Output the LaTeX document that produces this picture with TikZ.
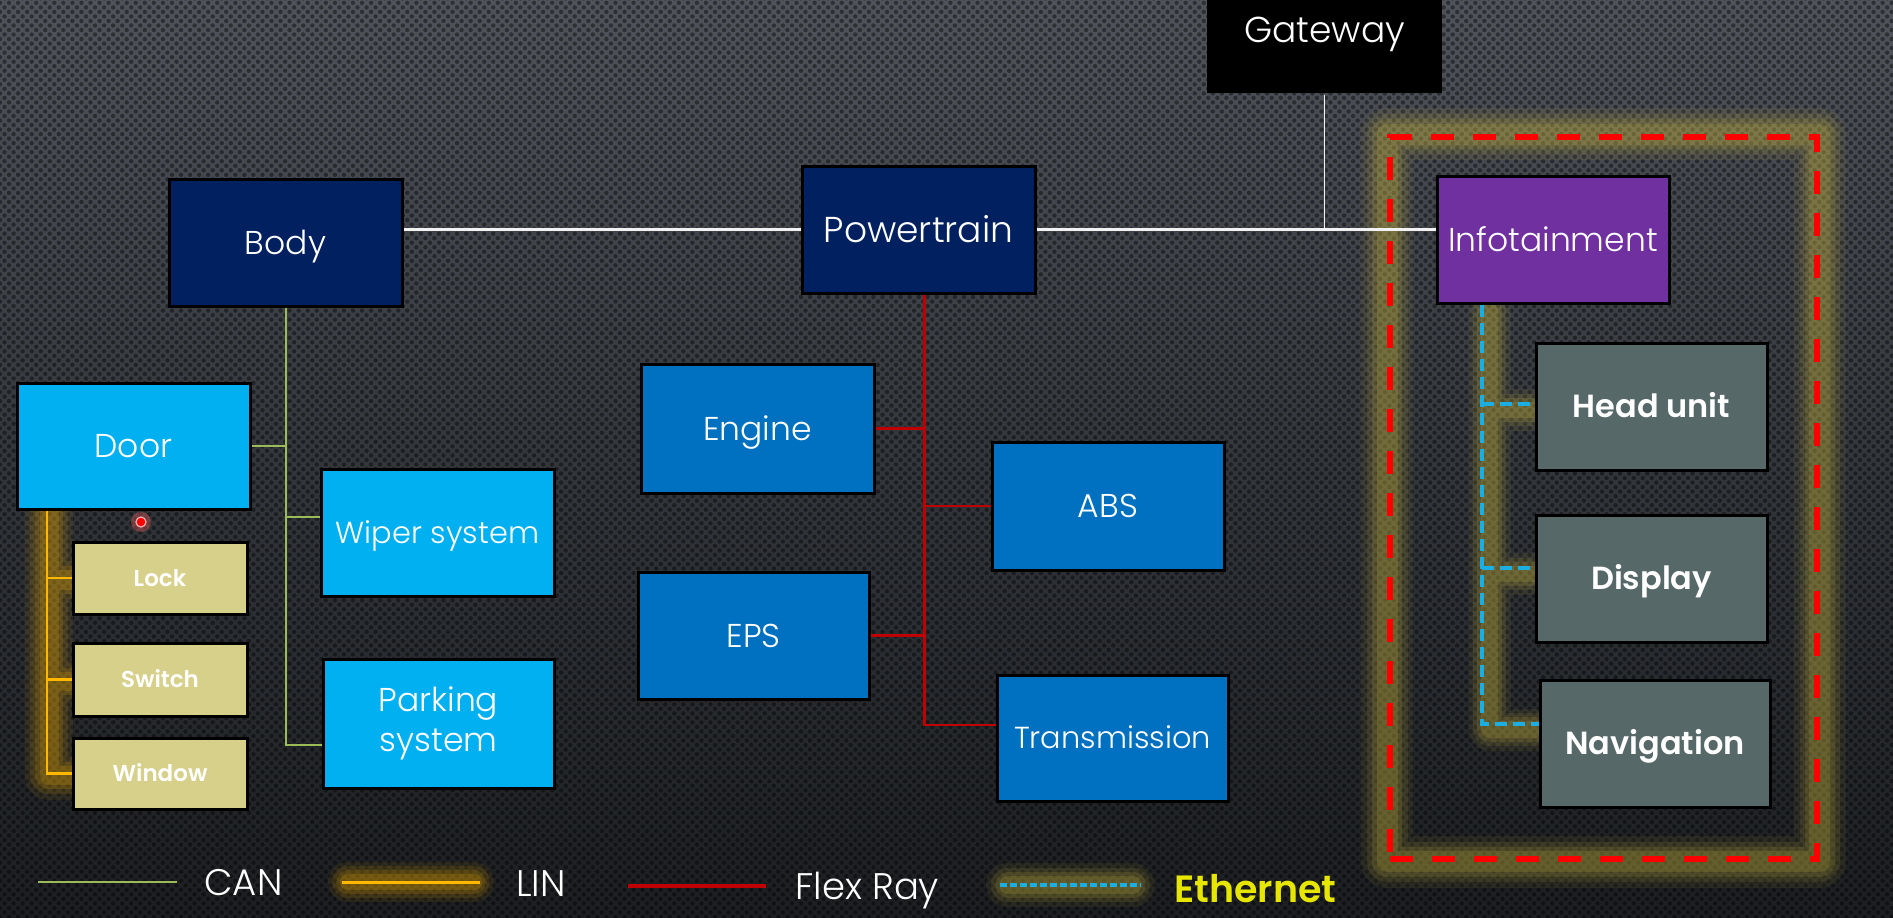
\documentclass[tikz,border=0pt]{standalone}
\usepackage{fontspec}
\IfFontExistsTF{Poppins Light}{\def\mainlight{Poppins Light}}{\def\mainlight{Poppins}}
\IfFontExistsTF{Poppins SemiBold}{\def\mainbold{Poppins SemiBold}}{\IfFontExistsTF{Poppins Bold}{\def\mainbold{Poppins Bold}}{\def\mainbold{Poppins}}}
\setmainfont{\mainlight}[BoldFont=\mainbold]
\usetikzlibrary{patterns.meta}
\pgfdeclarelayer{back}
\pgfdeclarelayer{glowlayer}
\pgfsetlayers{back,glowlayer,main}
\definecolor{navy}{HTML}{002060}
\definecolor{cyanb}{HTML}{00B0F0}
\definecolor{blueb}{HTML}{0070C0}
\definecolor{purp}{HTML}{7030A0}
\definecolor{slate}{HTML}{576868}
\definecolor{khaki}{HTML}{D7D08A}
\definecolor{cangreen}{HTML}{9BBB59}
\definecolor{linor}{HTML}{FFB800}
\definecolor{flexred}{HTML}{C00000}
\definecolor{ethblue}{HTML}{1AAEE2}
\definecolor{ethyellow}{HTML}{E6E600}
\definecolor{glowy}{HTML}{D4C040}
\definecolor{dashred}{HTML}{FF0000}
\definecolor{bgtop}{HTML}{50535A}
\definecolor{bgmid}{HTML}{33363B}
\definecolor{bgbot}{HTML}{1C1E21}
\newcommand\ecu[7]{\node[#6, minimum width={(#4-#2)*0.5pt}, minimum height={(#5-#3)*0.5pt}] (#1) at ({(#2+#4)/2},{(#3+#5)/2}) {#7};}
\newcommand\glow[4][]{\foreach \w/\o in {1/0.07,0.78/0.1,0.58/0.13,0.4/0.16}{\draw[draw=#2, line width=\w*#3, opacity=\o, line cap=round, line join=round, #1] #4;}}
\tikzset{
  box/.style={draw=black, line width=1.5pt, text=white, inner sep=0pt, align=center, font=\fontsize{16.5}{20}\selectfont},
  caps/.style={text height=#1, text depth=0pt},
  navybox/.style={box, fill=navy, caps=11.5pt},
  cyanbox/.style={box, fill=cyanb, caps=11.5pt},
  bluebox/.style={box, fill=blueb, caps=11.5pt},
  purpbox/.style={box, fill=purp, caps=11.5pt},
  narrow/.style={font=\fontsize{15.2}{20}\selectfont, caps=10.6pt},
  slatebox/.style={box, fill=slate, font=\bfseries\fontsize{16}{20}\selectfont, caps=11.2pt},
  khakibox/.style={box, fill=khaki, font=\bfseries\fontsize{11.5}{14}\selectfont, caps=8pt},
  bigfont/.style={font=\fontsize{18}{22}\selectfont, caps=12.6pt},
  canwhite/.style={draw=white!90!gray, line width=1.4pt},
  canthin/.style={draw=white!90!gray, line width=0.7pt},
  canbus/.style={draw=cangreen, line width=1pt},
  flexbus/.style={draw=flexred, line width=1.2pt},
  linbus/.style={draw=linor, line width=1.2pt},
  ethbus/.style={draw=ethblue, line width=2pt, dash pattern=on 6pt off 3pt},
  groupbox/.style={draw=dashred, line width=2.8pt, dash pattern=on 11.5pt off 9.5pt, inner sep=0pt},
  legtext/.style={text=white, anchor=base west, inner sep=0pt, font=\fontsize{18.5}{22}\selectfont},
}
\begin{document}
\begin{tikzpicture}[x=0.5pt, y=-0.5pt]
\useasboundingbox (0,0) rectangle (1893,917);
\clip (0,0) rectangle (1893,917);
\begin{pgfonlayer}{back}
\shade[top color=bgtop, bottom color=bgbot, middle color=bgmid] (0,0) rectangle (1893,917);
\fill[pattern={Dots[radius=1.1pt, distance=3.2pt, angle=45]}, pattern color=black, fill opacity=0.42] (0,0) rectangle (1893,917);
\end{pgfonlayer}

% nodes
\ecu{gateway}{1207}{-34}{1442}{93}{box, fill=black, draw=none, bigfont}{Gateway}
\ecu{body}{169}{179}{402}{306}{navybox}{Body}
\ecu{pt}{802}{166}{1035}{293}{navybox, bigfont}{Powertrain}
\ecu{info}{1437}{176}{1669}{303}{purpbox}{Infotainment}
\ecu{door}{17}{383}{250}{509}{cyanbox}{Door}
\ecu{lock}{73}{542}{247}{614}{khakibox}{Lock}
\ecu{switch}{73}{643}{247}{716}{khakibox}{Switch}
\ecu{window}{73}{738}{247}{809}{khakibox}{Window}
\ecu{wiper}{321}{469}{554}{596}{cyanbox, narrow}{Wiper system}
\ecu{parking}{323}{659}{554}{788}{box, fill=cyanb}{Parking\\system}
\ecu{engine}{641}{364}{874}{493}{bluebox}{Engine}
\ecu{abs}{992}{442}{1224}{570}{bluebox}{ABS}
\ecu{eps}{638}{572}{869}{699}{bluebox}{EPS}
\ecu{trans}{997}{675}{1228}{801}{bluebox, narrow}{Transmission}
\ecu{head}{1536}{343}{1767}{470}{slatebox}{Head unit}
\ecu{display}{1536}{515}{1767}{642}{slatebox}{Display}
\ecu{nav}{1540}{680}{1770}{807}{slatebox}{Navigation}
\ecu{group}{1390}{137}{1817}{859}{groupbox}{}

% glow around infotainment group
\begin{pgfonlayer}{glowlayer}
\glow{glowy}{26pt}{(group.north west) rectangle (group.south east)}
\end{pgfonlayer}

% CAN backbone
\draw[canwhite] (pt.west) -- (pt.west -| body.east);
\draw[canwhite] (pt.east) -- (pt.east -| info.west);
\coordinate (gj) at (gateway.south |- pt.east);
\draw[canthin] (gateway.south) -- (gj);

% CAN body bus
\coordinate (gDoor) at (body.south |- 0,446);
\coordinate (gWip) at (body.south |- 0,517);
\coordinate (gPark) at (body.south |- 0,745);
\draw[canbus] (body.south) -- (gPark) -- (gPark -| parking.west)
  (gDoor) -- (gDoor -| door.east) (gWip) -- (gWip -| wiper.west);

% FlexRay bus
\coordinate (rTop) at ([xshift=3pt]pt.south);
\coordinate (rEng) at (rTop |- engine.east);
\coordinate (rAbs) at (rTop |- abs.west);
\coordinate (rEps) at (rTop |- eps.east);
\coordinate (rTr) at (rTop |- 0,725);
\draw[flexbus] (rTop) -- (rTr) -- (rTr -| trans.west)
  (rEng) -- (engine.east) (rAbs) -- (abs.west) (rEps) -- (eps.east);

% LIN bus
\coordinate (oTop) at ([xshift=15.8pt]door.south west);
\coordinate (oLock) at (oTop |- lock.west);
\coordinate (oSw) at (oTop |- switch.west);
\coordinate (oWin) at (oTop |- window.west);
\begin{pgfonlayer}{glowlayer}
\glow[transform canvas={xshift=1pt, yshift=-1pt}]{linor}{24pt}{(oTop) -- (oWin) -- (window.west) (oLock) -- (lock.west) (oSw) -- (switch.west)}
\end{pgfonlayer}
\draw[linbus] (oTop) -- (oWin) -- (window.west) (oLock) -- (lock.west) (oSw) -- (switch.west);

% Ethernet bus
\coordinate (eTop) at ([xshift=23pt]info.south west);
\coordinate (eHead) at (eTop |- 0,404);
\coordinate (eDisp) at (eTop |- 0,568);
\coordinate (eNav) at (eTop |- 0,723.5);
\begin{pgfonlayer}{glowlayer}
\glow[transform canvas={xshift=4pt, yshift=-3pt}]{glowy}{21pt}{(eTop) -- (eNav) -- (eNav -| nav.west) (eHead) -- (eHead -| head.west) (eDisp) -- (eDisp -| display.west)}
\end{pgfonlayer}
\draw[ethbus] (eTop) -- (eNav) -- (eNav -| nav.west) (eHead) -- (eHead -| head.west) (eDisp) -- (eDisp -| display.west);

% presenter pointer dot
\fill[red!60!white, opacity=0.35] (141,522) circle (5pt);
\node[circle, fill=red, draw=red!30!white, line width=0.6pt, inner sep=0pt, minimum size=5pt] (dot) at (141,522) {};

% legend
\coordinate (lcA) at (38,882); \coordinate (lcB) at (177,882);
\draw[canbus, line width=1.3pt] (lcA) -- (lcB);
\node[legtext] (lcan) at (204,895) {CAN};
\coordinate (llA) at (342,882); \coordinate (llB) at (480,882);
\coordinate (lgA) at (348,882); \coordinate (lgB) at (474,882);
\glow{linor}{20pt}{(lgA) -- (lgB)}
\draw[linbus, line width=1.5pt] (llA) -- (llB);
\node[legtext] (llin) at (516,896) {LIN};
\coordinate (lfA) at (628,886); \coordinate (lfB) at (766,886);
\draw[flexbus, line width=1.6pt] (lfA) -- (lfB);
\node[legtext] (lflex) at (795,899) {Flex Ray};
\coordinate (leA) at (1000,885); \coordinate (leB) at (1141,885);
\coordinate (lhA) at (1008,885); \coordinate (lhB) at (1133,885);
\glow{glowy}{22pt}{(lhA) -- (lhB)}
\draw[ethbus, dash pattern=on 3.5pt off 1.5pt] (leA) -- (leB);
\node[legtext, text=ethyellow, font=\bfseries\fontsize{19}{22}\selectfont] (leth) at (1174,902) {Ethernet};
\end{tikzpicture}
\end{document}
